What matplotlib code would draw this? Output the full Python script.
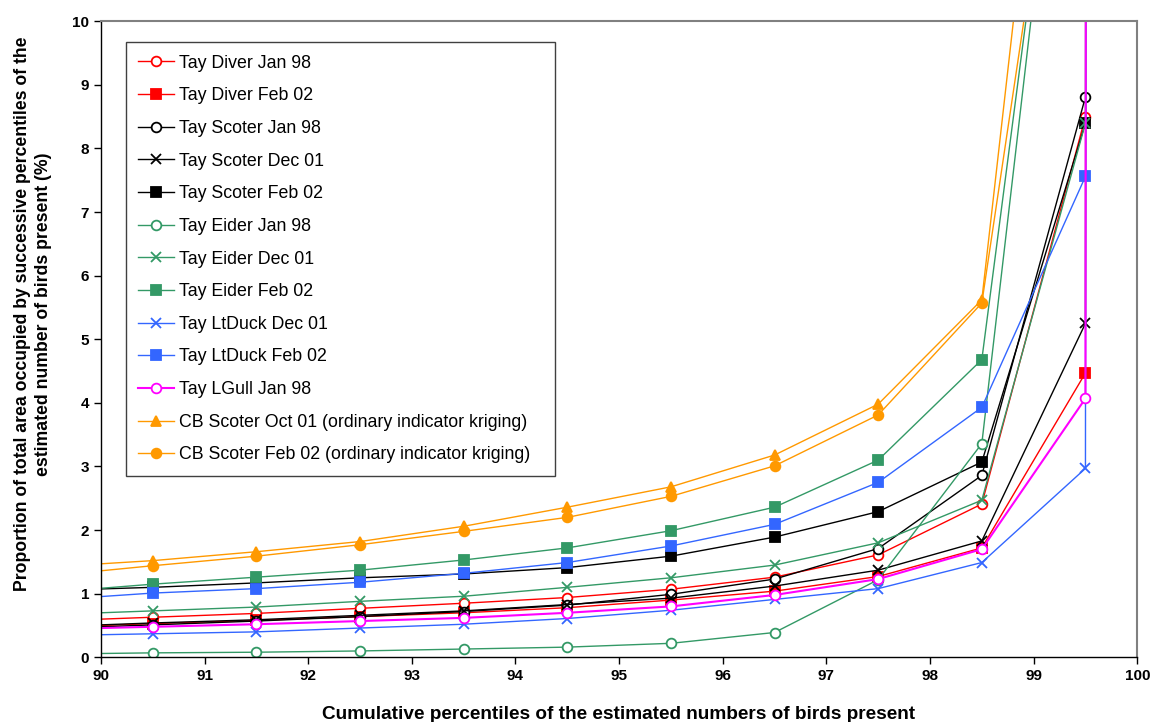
import numpy as np
import matplotlib
matplotlib.use("Agg")
import matplotlib.pyplot as plt

plt.rcParams['font.family'] = ['Liberation Sans', 'DejaVu Sans']

# percentile midpoints (the 89.5 point sits just off the left edge)
pct = [89.5, 90.5, 91.5, 92.5, 93.5, 94.5, 95.5, 96.5, 97.5, 98.5, 99.5]
pct_top = pct + [100.0]

tay_diver_jan98 = [0.57, 0.63, 0.69, 0.77, 0.85, 0.94, 1.07, 1.26, 1.61, 2.41, 8.50]
tay_diver_feb02 = [0.47, 0.53, 0.58, 0.64, 0.70, 0.78, 0.90, 1.04, 1.27, 1.72, 4.47]
tay_scoter_jan98 = [0.45, 0.51, 0.57, 0.64, 0.72, 0.82, 0.99, 1.23, 1.71, 2.86, 8.81]
tay_scoter_dec01 = [0.48, 0.54, 0.59, 0.66, 0.73, 0.83, 0.93, 1.12, 1.37, 1.83, 5.25, 1000]
tay_scoter_feb02 = [1.05, 1.10, 1.17, 1.25, 1.31, 1.41, 1.59, 1.89, 2.29, 3.07, 8.40]
tay_eider_jan98 = [0.05, 0.07, 0.08, 0.10, 0.13, 0.16, 0.22, 0.39, 1.22, 3.36, 17.4]
tay_eider_dec01 = [0.67, 0.73, 0.79, 0.88, 0.96, 1.10, 1.25, 1.45, 1.80, 2.47, 8.40, 1000]
tay_eider_feb02 = [1.02, 1.15, 1.26, 1.37, 1.53, 1.72, 1.99, 2.36, 3.10, 4.68, 17.2]
tay_ltduck_dec01 = [0.34, 0.37, 0.40, 0.46, 0.52, 0.61, 0.74, 0.91, 1.08, 1.49, 2.97, 1000]
tay_ltduck_feb02 = [0.90, 1.01, 1.08, 1.18, 1.32, 1.49, 1.75, 2.09, 2.75, 3.93, 7.56]
tay_lgull_jan98 = [0.44, 0.48, 0.52, 0.57, 0.62, 0.70, 0.80, 0.98, 1.23, 1.70, 4.07, 1000]
cb_scoter_oct01 = [1.42, 1.52, 1.66, 1.82, 2.06, 2.36, 2.68, 3.18, 3.98, 5.62, 20.0]
cb_scoter_feb02 = [1.28, 1.44, 1.59, 1.77, 1.98, 2.20, 2.53, 3.01, 3.81, 5.57, 16.5]

RED = '#FF0000'
GREEN = '#339966'
BLUE = '#3366FF'
MAGENTA = '#FF00FF'
ORANGE = '#FF9900'

series = [
    ('Tay Diver Jan 98', tay_diver_jan98, RED, 'o', 'white', 1.0),
    ('Tay Diver Feb 02', tay_diver_feb02, RED, 's', RED, 1.0),
    ('Tay Scoter Jan 98', tay_scoter_jan98, 'black', 'o', 'white', 1.0),
    ('Tay Scoter Dec 01', tay_scoter_dec01, 'black', 'x', 'black', 1.0),
    ('Tay Scoter Feb 02', tay_scoter_feb02, 'black', 's', 'black', 1.0),
    ('Tay Eider Jan 98', tay_eider_jan98, GREEN, 'o', 'white', 1.0),
    ('Tay Eider Dec 01', tay_eider_dec01, GREEN, 'x', GREEN, 1.0),
    ('Tay Eider Feb 02', tay_eider_feb02, GREEN, 's', GREEN, 1.0),
    ('Tay LtDuck Dec 01', tay_ltduck_dec01, BLUE, 'x', BLUE, 1.0),
    ('Tay LtDuck Feb 02', tay_ltduck_feb02, BLUE, 's', BLUE, 1.0),
    ('Tay LGull Jan 98', tay_lgull_jan98, MAGENTA, 'o', 'white', 1.5),
    ('CB Scoter Oct 01 (ordinary indicator kriging)', cb_scoter_oct01, ORANGE, '^', ORANGE, 1.0),
    ('CB Scoter Feb 02 (ordinary indicator kriging)', cb_scoter_feb02, ORANGE, 'o', ORANGE, 1.0),
]

fig = plt.figure(figsize=(11.54, 7.22), dpi=100)
ax = fig.add_axes([0.0875, 0.0896, 0.898, 0.881])

for label, vals, col, mk, face, lw in series:
    xs = pct_top[:len(vals)]
    ax.plot(xs, vals, color=col, lw=lw, marker=mk, markersize=7,
            markerfacecolor=face, markeredgecolor=col, markeredgewidth=1.3,
            label=label)

ax.set_xlim(90, 100)
ax.set_ylim(0, 10)
ax.set_xticks(np.arange(90, 101, 1))
ax.set_yticks(np.arange(0, 11, 1))
ax.tick_params(direction='out', length=5, width=1, labelsize=11)
for t in ax.get_xticklabels() + ax.get_yticklabels():
    t.set_fontweight('bold')

for side in ('left', 'bottom'):
    ax.spines[side].set_color('black')
    ax.spines[side].set_linewidth(1.0)
for side in ('top', 'right'):
    ax.spines[side].set_color('#808080')
    ax.spines[side].set_linewidth(1.5)

ax.set_xlabel('Cumulative percentiles of the estimated numbers of birds present',
              fontsize=13.7, fontweight='bold')
ax.xaxis.set_label_coords(0.499, -0.077)
ax.set_ylabel('Proportion of total area occupied by successive percentiles of the\n'
              'estimated number of birds present (%)',
              fontsize=12.7, fontweight='bold', linespacing=1.3)
ax.yaxis.set_label_coords(-0.047, 0.54)

# legend box stretched to a fixed width
leg = ax.legend(loc='upper left', bbox_to_anchor=(0.024, 0.967, 0.414, 0),
                mode='expand', fontsize=12.8,
                frameon=True, fancybox=False, framealpha=1, edgecolor='#404040',
                borderpad=0.7, labelspacing=0.88, handlelength=2.0,
                handletextpad=0.3, borderaxespad=0)
leg.get_frame().set_linewidth(1.0)

fig.savefig('out.png', dpi=100)
